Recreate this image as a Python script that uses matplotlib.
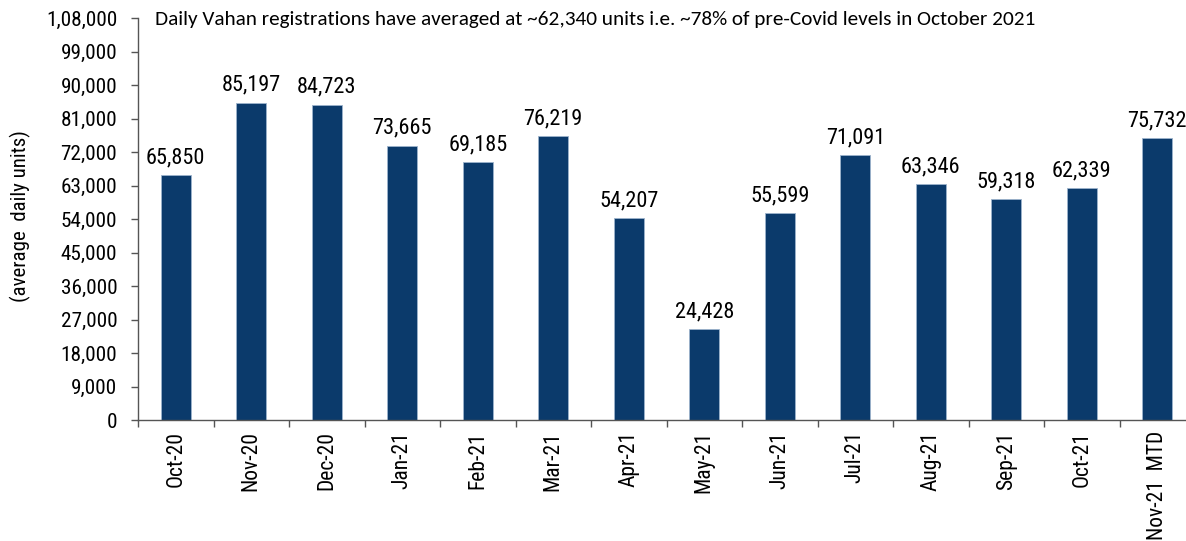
import matplotlib
matplotlib.use("Agg")
import matplotlib.pyplot as plt
from matplotlib import font_manager as fm

categories = ["Oct-20", "Nov-20", "Dec-20", "Jan-21", "Feb-21", "Mar-21", "Apr-21",
              "May-21", "Jun-21", "Jul-21", "Aug-21", "Sep-21", "Oct-21", "Nov-21  MTD"]
values = [65850, 85197, 84723, 73665, 69185, 76219, 54207,
          24428, 55599, 71091, 63346, 59318, 62339, 75732]
yticks = list(range(0, 108001, 9000))
note = "Daily Vahan registrations have averaged at ~62,340 units i.e. ~78% of pre-Covid levels in October 2021"
ylabel = "(average  daily units)"

names = {f.name for f in fm.fontManager.ttflist}


def pick(cands):
    for c in cands:
        if c in names:
            return c
    return "DejaVu Sans"


narrow_name = pick(["Liberation Sans Narrow", "Arial Narrow", "Roboto Condensed", "Archivo Narrow",
                    "Barlow Semi Condensed", "Barlow Condensed"])
narrow = [narrow_name, "DejaVu Sans"]
body_name = pick(["Carlito", "Calibri", "Lato"])
body = [body_name, "DejaVu Sans"]
note_size = (13.7 if body_name in ("Carlito", "Calibri") else 14.0) * 1.12


def indian(n):
    s = str(int(n))
    if len(s) <= 3:
        return s
    last3 = s[-3:]
    rest = s[:-3]
    parts = []
    while len(rest) > 2:
        parts.insert(0, rest[-2:])
        rest = rest[:-2]
    if rest:
        parts.insert(0, rest)
    return ",".join(parts) + "," + last3


W, H = 1186, 541
fig = plt.figure(figsize=(W / 100, H / 100), dpi=100)
left, right, bottom, top = 138, 1195, 420, 18
ax = fig.add_axes([left / W, 1 - bottom / H, (right - left) / W, (bottom - top) / H])

x = list(range(len(categories)))
color = "#0b3a6b"
ax.bar(x, values, width=0.4, color=color, edgecolor="#9db3cc", linewidth=0.6)
for xi, v in zip(x, values):
    ax.annotate(indian(v), (xi, v), xytext=(0, 5), textcoords="offset points",
                ha="center", va="bottom", fontsize=16, family=narrow, color="black")

ax.set_xlim(-0.5, len(categories) - 0.5)
ax.set_ylim(0, 108000)
ax.set_yticks(yticks)
ax.set_yticklabels([indian(t) for t in yticks], fontsize=15.3, family=narrow)
ax.set_xticks(x)
ax.set_xticklabels(categories, rotation=90, fontsize=15.5, family=narrow, va="top")
ax.set_xticks([i - 0.5 for i in range(len(categories) + 1)], minor=True)
ax.tick_params(axis="x", which="major", length=0, pad=8)
ax.tick_params(axis="x", which="minor", length=5, color="#555555", width=1)
ax.tick_params(axis="y", length=5, color="#555555", width=1, pad=10)

for s in ["top", "right"]:
    ax.spines[s].set_visible(False)
for s in ["left", "bottom"]:
    ax.spines[s].set_color("#555555")
    ax.spines[s].set_linewidth(1)

fig.text(155 / W, 1 - 20 / H, note, fontsize=note_size,
         family=body, ha="left", va="center", color="black")
fig.text(20 / W, 1 - 216 / H, ylabel, rotation=90, fontsize=15, family=narrow,
         ha="center", va="center")

fig.savefig("out.png", dpi=100)
